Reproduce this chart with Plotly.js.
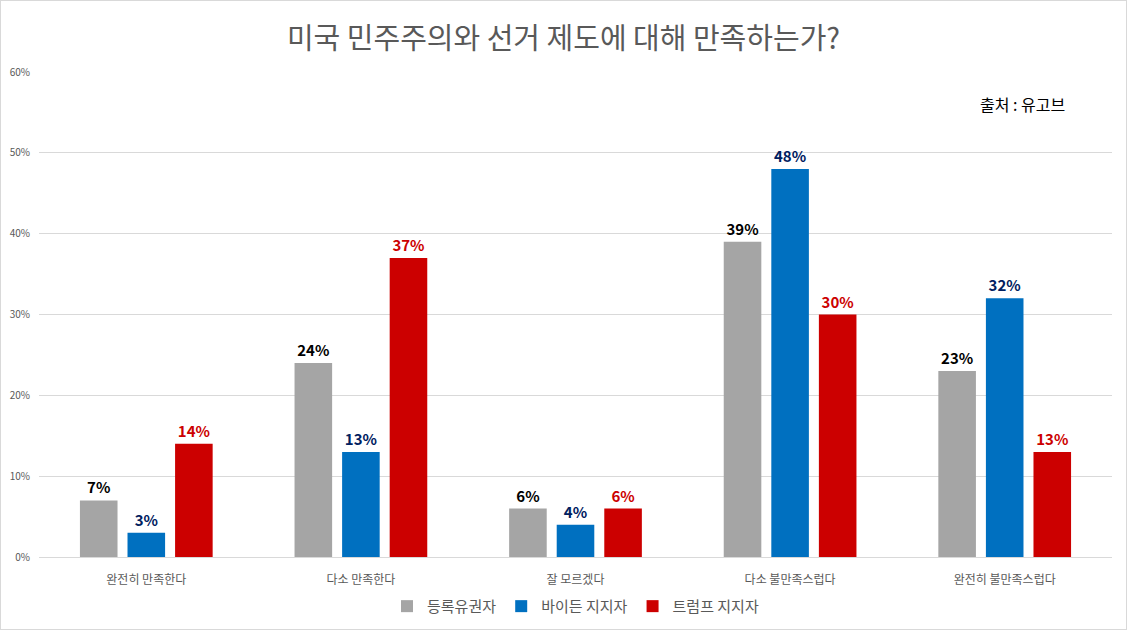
<!DOCTYPE html>
<html>
<head>
<meta charset="utf-8">
<script src="https://cdn.plot.ly/plotly-3.0.1.min.js"></script>
<style>
  html, body { margin: 0; padding: 0; background: #fff; }
  #chart { width: 1125px; height: 628px; border: 1px solid #d9d9d9; }
</style>
</head>
<body>
<div id="chart"></div>
<script>
CHART = document.getElementById('chart');

const FONT = '"Noto Sans CJK KR", "Noto Sans", sans-serif';
const GREY_TEXT = '#595959';

// answer categories
const categories = ['완전히 만족한다', '다소 만족한다', '잘 모르겠다', '다소 불만족스럽다', '완전히 불만족스럽다'];

// share of respondents (fraction)
const registered = [0.07, 0.24, 0.06, 0.39, 0.23];
const biden = [0.03, 0.13, 0.04, 0.48, 0.32];
const trump = [0.14, 0.37, 0.06, 0.30, 0.13];

const seriesNames = ['등록유권자', '바이든 지지자', '트럼프 지지자'];

function bar(name, values, color, labelColor) {
    return {
        type: 'bar',
        name: name,
        x: categories,
        y: values,
        marker: { color: color },
        texttemplate: '%{y:.0%}',
        textposition: 'outside',
        cliponaxis: false,
        textfont: { family: FONT, size: 15, color: labelColor, weight: 'bold' },
        hoverinfo: 'skip'
    };
}

const traces = [
    bar(seriesNames[0], registered, '#a5a5a5', '#000000'),
    bar(seriesNames[1], biden, '#0070c0', '#002060'),
    bar(seriesNames[2], trump, '#cc0000', '#cc0000')
];

const layout = {
    width: 1125,
    height: 628,
    paper_bgcolor: '#ffffff',
    plot_bgcolor: '#ffffff',
    font: { family: FONT, color: GREY_TEXT },
    margin: { l: 38, r: 14, t: 71, b: 72, autoexpand: false },
    barmode: 'group',
    bargap: 0.335,
    bargroupgap: 0.21,
    title: {
        text: '미국 민주주의와 선거 제도에 대해 만족하는가?',
        font: { family: FONT, size: 29, color: GREY_TEXT },
        x: 0.5,
        xanchor: 'center',
        xref: 'container',
        y: 0.94,
        yanchor: 'middle'
    },
    xaxis: {
        showgrid: false,
        showline: true,
        linecolor: '#d9d9d9',
        ticks: '',
        ticklabelstandoff: 12,
        tickfont: { size: 12, color: GREY_TEXT },
        fixedrange: true
    },
    yaxis: {
        range: [0, 0.6],
        dtick: 0.1,
        tickformat: '.0%',
        showgrid: true,
        gridcolor: '#d9d9d9',
        zeroline: false,
        showline: false,
        ticks: '',
        ticklabelstandoff: 8,
        tickfont: { size: 10, color: GREY_TEXT },
        fixedrange: true
    },
    showlegend: true,
    legend: {
        orientation: 'h',
        x: 0.5,
        xanchor: 'center',
        yref: 'container',
        y: 0.036,
        yanchor: 'middle',
        font: { size: 15, color: GREY_TEXT },
        itemwidth: 30,
        traceorder: 'normal'
    },
    annotations: [{
        text: '출처 : 유고브',
        xref: 'paper',
        yref: 'paper',
        x: 0.917,
        y: 0.935,
        xanchor: 'center',
        yanchor: 'middle',
        showarrow: false,
        font: { family: FONT, size: 16, color: '#000000' }
    }]
};

Plotly.newPlot(CHART, traces, layout, { displayModeBar: false, staticPlot: true });
</script>
</body>
</html>
